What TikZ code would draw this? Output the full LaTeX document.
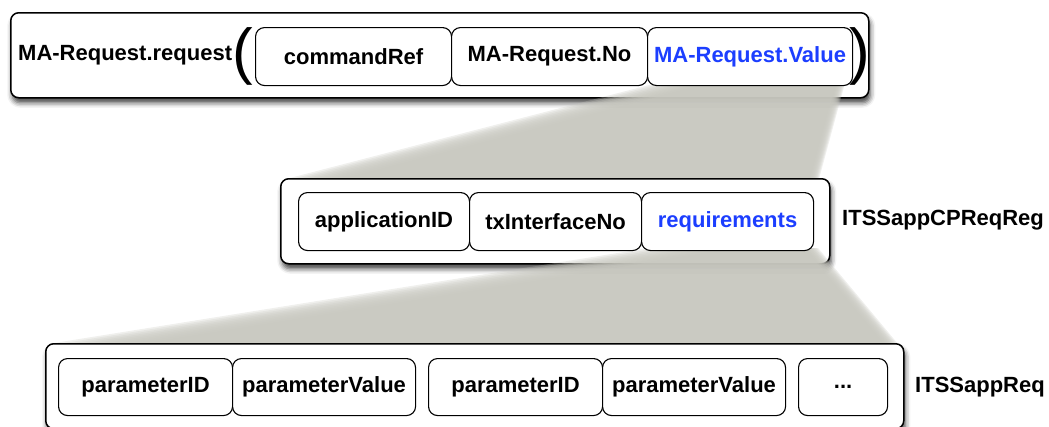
\documentclass[tikz,border=0pt]{standalone}
\usepackage{fontspec}
\setmainfont{Liberation Sans}
\usetikzlibrary{shadows.blur}
\definecolor{fangray}{RGB}{200,200,192}
\definecolor{valblue}{RGB}{28,62,255}
\begin{document}
\begin{tikzpicture}[x=1pt,y=-1pt,
  every node/.style={font=\fontsize{22}{26}\selectfont\bfseries},
  outerbox/.style={draw=black, line width=1.5pt, rounded corners=8pt, fill=white, anchor=north west, inner sep=0pt,
    blur shadow={shadow xshift=1.5pt, shadow yshift=-5pt, shadow blur radius=5pt, shadow opacity=75}},
  fieldbox/.style={draw=black, line width=1.1pt, rounded corners=9pt, fill=white, anchor=north west, inner sep=0pt, minimum height=58pt},
  lbl/.style={anchor=west, inner sep=0pt},
  paren/.style={inner sep=0pt, font=\fontsize{62}{62}\selectfont},
  fanlayer/.style={fill=fangray, fill opacity=0.28},
]
\useasboundingbox (0,0) rectangle (1049,426);
\clip (0,0) rectangle (1049,426);

% ---------- top level ----------
\node[outerbox, minimum width=858pt, minimum height=85pt] (topbox) at (10,12) {};
\node[lbl] (topname) at (18,55) {MA-Request.request};
\node[paren] (lpar) at (243,56) {(};

% fan from MA-Request.Value down to the middle box
\foreach \i in {0,...,9} {
  \fill[fanlayer] (657+6*\i,83) -- (845-1*\i,83) -- (819-1*\i,179) -- (286+6*\i,179) -- cycle;
}

\node[fieldbox, minimum width=196pt] (cmdref) at (255,27) {commandRef};
\node[fieldbox, minimum width=196pt] (reqno) at (451,27) {MA-Request.No};
\node[fieldbox, minimum width=205pt, text=valblue] (reqval) at (647,27) {MA-Request.Value};
\node[paren] (rpar) at (860,56) {)};

% ---------- middle level ----------
\node[outerbox, minimum width=549pt, minimum height=85pt] (midbox) at (280,178) {};

% fan from requirements down to the bottom box
\foreach \i in {0,...,9} {
  \fill[fanlayer] (649+10*\i,248) -- (818-1.5*\i,248) -- (898-1.5*\i,344) -- (48+10*\i,344) -- cycle;
}

\node[fieldbox, minimum width=171pt] (appid) at (298,192) {applicationID};
\node[fieldbox, minimum width=172pt] (txif) at (469,192) {txInterfaceNo};
\node[fieldbox, minimum width=172pt, text=valblue] (reqs) at (641,192) {requirements};
\node[lbl] (midlabel) at (842,220) {ITSSappCPReqReg};

% ---------- bottom level ----------
\node[outerbox, minimum width=858pt, minimum height=85pt] (botbox) at (45,343) {};
\node[fieldbox, minimum width=174pt, minimum height=57pt] (pid1) at (58,358) {parameterID};
\node[fieldbox, minimum width=183pt, minimum height=57pt] (pval1) at (232,358) {parameterValue};
\node[fieldbox, minimum width=174pt, minimum height=57pt] (pid2) at (428,358) {parameterID};
\node[fieldbox, minimum width=183pt, minimum height=57pt] (pval2) at (602,358) {parameterValue};
\node[fieldbox, minimum width=89pt, minimum height=57pt] (dots) at (798,358) {...};
\node[lbl] (botlabel) at (915,387) {ITSSappReq};
\end{tikzpicture}
\end{document}
